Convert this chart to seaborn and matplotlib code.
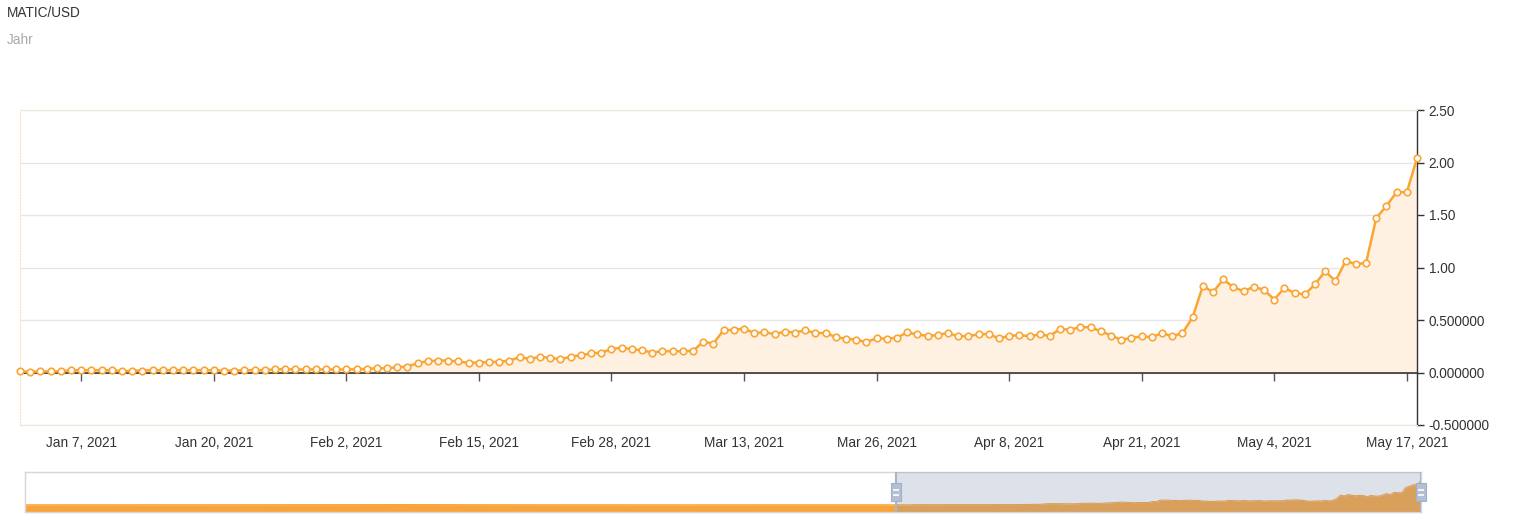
import pandas as pd
import numpy as np
import matplotlib
matplotlib.use("Agg")
import matplotlib.pyplot as plt
import matplotlib.dates as mdates
import matplotlib.transforms as mtransforms
import seaborn as sns

# daily MATIC/USD closes shown in the main window (Jan 1 - May 18, 2021)
start_date = "2021-01-01"
prices = [
    0.010, 0.008, 0.010, 0.011, 0.011, 0.022, 0.022, 0.022, 0.022, 0.022,
    0.013, 0.016, 0.019, 0.022, 0.022, 0.022, 0.022, 0.022, 0.022, 0.022,
    0.016, 0.019, 0.022, 0.022, 0.022, 0.031, 0.031, 0.029, 0.029, 0.029,
    0.029, 0.029, 0.029, 0.031, 0.035, 0.041, 0.041, 0.050, 0.057, 0.089,
    0.108, 0.114, 0.114, 0.105, 0.092, 0.095, 0.098, 0.102, 0.114, 0.146,
    0.130, 0.149, 0.140, 0.127, 0.149, 0.165, 0.181, 0.190, 0.222, 0.238,
    0.222, 0.212, 0.190, 0.203, 0.203, 0.203, 0.206, 0.292, 0.276, 0.403,
    0.406, 0.419, 0.375, 0.384, 0.365, 0.390, 0.380, 0.403, 0.375, 0.378,
    0.337, 0.321, 0.314, 0.289, 0.327, 0.321, 0.333, 0.381, 0.362, 0.349,
    0.356, 0.378, 0.343, 0.349, 0.362, 0.368, 0.324, 0.349, 0.356, 0.346,
    0.362, 0.349, 0.416, 0.406, 0.435, 0.429, 0.394, 0.352, 0.311, 0.330,
    0.343, 0.338, 0.375, 0.346, 0.375, 0.527, 0.825, 0.765, 0.886, 0.813,
    0.775, 0.816, 0.787, 0.695, 0.806, 0.756, 0.743, 0.841, 0.965, 0.870,
    1.060, 1.035, 1.041, 1.470, 1.587, 1.717, 1.717, 2.041,
]

# weekly closes only used by the navigator strip (May 19 - Dec 29, 2020)
nav_start = "2020-05-19"
nav_prices_2020 = [
    0.0170, 0.0175, 0.0190, 0.0185, 0.0180, 0.0170, 0.0165, 0.0160, 0.0180,
    0.0200, 0.0230, 0.0220, 0.0250, 0.0300, 0.0350, 0.0280, 0.0260, 0.0230,
    0.0210, 0.0200, 0.0190, 0.0180, 0.0170, 0.0160, 0.0150, 0.0160, 0.0170,
    0.0185, 0.0190, 0.0185, 0.0180, 0.0175, 0.0180,
]

x_tick_dates = ["2021-01-07", "2021-01-20", "2021-02-02", "2021-02-15",
                "2021-02-28", "2021-03-13", "2021-03-26", "2021-04-08",
                "2021-04-21", "2021-05-04", "2021-05-17"]
x_tick_labels = ["Jan 7, 2021", "Jan 20, 2021", "Feb 2, 2021", "Feb 15, 2021",
                 "Feb 28, 2021", "Mar 13, 2021", "Mar 26, 2021", "Apr 8, 2021",
                 "Apr 21, 2021", "May 4, 2021", "May 17, 2021"]
y_tick_values = [-0.5, 0.0, 0.5, 1.0, 1.5, 2.0, 2.5]
y_tick_labels = ["-0.500000", "0.000000", "0.500000", "1.00", "1.50", "2.00", "2.50"]

ORANGE = "#fba534"
FILL = "#fef1e1"
DARK = "#333333"

sns.set_style("white")
plt.rcParams["font.family"] = ["Liberation Sans", "DejaVu Sans"]

df = pd.DataFrame({"date": pd.date_range(start_date, periods=len(prices), freq="D"),
                   "price": prices})
nav = pd.concat([
    pd.DataFrame({"date": pd.date_range(nav_start, periods=len(nav_prices_2020), freq="7D"),
                  "price": nav_prices_2020}),
    df,
], ignore_index=True)

W, H = 1527, 522
fig = plt.figure(figsize=(W / 100, H / 100), dpi=100)

# ---- main chart ----
ax = fig.add_axes([20 / W, 1 - 425 / H, 1397 / W, 315 / H])
ax.fill_between(df["date"], 0, df["price"], color=FILL, lw=0, zorder=1)
sns.lineplot(data=df, x="date", y="price", ax=ax, color=ORANGE, lw=1.8,
             marker="o", markersize=4.7, markerfacecolor="white",
             markeredgecolor=ORANGE, markeredgewidth=1.2, clip_on=False, zorder=4)

ymin, ymax = -0.5, 2.5
ax.set_xlim(df["date"].iloc[0], df["date"].iloc[-1])
ax.set_ylim(ymin, ymax)
ax.set_xlabel("")
ax.set_ylabel("")

ax.set_xticks(pd.to_datetime(x_tick_dates))
ax.set_xticklabels(x_tick_labels)
ax.tick_params(axis="x", length=0, pad=8, labelsize=9.8, labelcolor=DARK)

ax.yaxis.tick_right()
ax.set_yticks(y_tick_values)
ax.set_yticklabels(y_tick_labels)
ax.tick_params(axis="y", right=True, length=5, width=1, color=DARK, pad=3.5,
               labelsize=9.8, labelcolor=DARK, direction="out")

ax.grid(axis="y", color="#e6e6e6", lw=1)
ax.set_axisbelow(True)
ax.spines["right"].set_color(DARK)
ax.spines["right"].set_linewidth(1)
ax.spines["top"].set_color("#f1e7d6")
ax.spines["bottom"].set_color("#f1e7d6")
ax.spines["left"].set_color("#fde0c0")
ax.spines["left"].set_linestyle(":")
for s in ax.spines.values():
    s.set_zorder(2)

# x axis line with ticks at zero
sec = ax.secondary_xaxis((0 - ymin) / (ymax - ymin))
sec.xaxis.set_ticks_position("bottom")
sec.set_xticks(mdates.date2num(pd.to_datetime(x_tick_dates)))
sec.tick_params(axis="x", length=6, width=1, color="#555555", direction="out",
                labelbottom=False, labeltop=False)
for s in ["top", "left", "right"]:
    sec.spines[s].set_visible(False)
sec.spines["bottom"].set_color(DARK)
sec.spines["bottom"].set_linewidth(1.2)
sec.set_zorder(3)

# ---- navigator ----
axn = fig.add_axes([25 / W, 1 - 512 / H, 1396 / W, 40 / H])
nlo, nhi = -0.6, 2.8
axn.set_xlim(pd.Timestamp(nav_start), df["date"].iloc[-1])
axn.set_ylim(nlo, nhi)
axn.fill_between(nav["date"], nlo, nav["price"], color="#f9a43a", lw=0, zorder=1)
sns.lineplot(data=nav, x="date", y="price", ax=axn, color=ORANGE, lw=0.8, zorder=2)
axn.axvspan(df["date"].iloc[0], df["date"].iloc[-1], color="#8596b4", alpha=0.28,
            lw=0, zorder=3)
axn.set_xticks([])
axn.set_yticks([])
axn.set_xlabel("")
axn.set_ylabel("")
for s in axn.spines.values():
    s.set_color("#d6d6d6")
    s.set_linewidth(1)

trans = mtransforms.blended_transform_factory(axn.transData, axn.transAxes)
handle = [(-0.3, -0.5), (0.3, -0.5), (0.3, 0.5), (-0.3, 0.5), (-0.3, -0.5)]
for d in [df["date"].iloc[0], df["date"].iloc[-1]]:
    axn.axvline(d, color="#a8b6cc", lw=1.5, zorder=4)
    axn.plot([d], [0.5], transform=trans, marker=handle, markersize=13,
             color="#b3c0d4", markeredgecolor="#a2b0c7", markeredgewidth=0.8,
             zorder=5, clip_on=False)
    for dy in (-2.5, 2.5):
        axn.plot([d], [0.5],
                 transform=mtransforms.offset_copy(trans, fig=fig, y=dy, units="dots"),
                 marker="_", markersize=4, markeredgewidth=1.2, color="white",
                 zorder=6, clip_on=False)

# ---- titles ----
fig.text(7 / W, 1 - 13 / H, "MATIC/USD", fontsize=9.8, color=DARK, va="center")
fig.text(7 / W, 1 - 40 / H, "Jahr", fontsize=9.8, color="#a8a8a8", va="center")

fig.savefig("out.png", dpi=100)
